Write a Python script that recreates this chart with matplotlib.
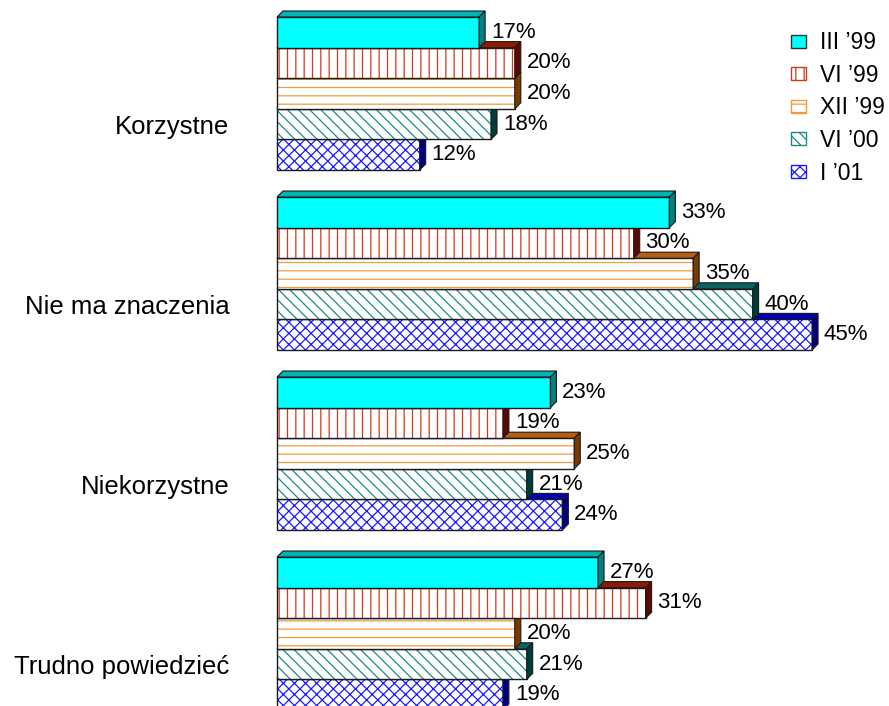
import matplotlib
matplotlib.use("Agg")
import matplotlib.pyplot as plt
from matplotlib.patches import Polygon, Patch

plt.rcParams['font.family'] = ['Liberation Sans', 'DejaVu Sans']
plt.rcParams['hatch.linewidth'] = 0.9

# --- data ---
categories = ["Korzystne", "Nie ma znaczenia", "Niekorzystne", "Trudno powiedzieć"]
series = ["III ’99", "VI ’99", "XII ’99", "VI ’00", "I ’01"]
values = [
    [17, 20, 20, 18, 12],   # Korzystne
    [33, 30, 35, 40, 45],   # Nie ma znaczenia
    [23, 19, 25, 21, 24],   # Niekorzystne
    [27, 31, 20, 21, 19],   # Trudno powiedzieć
]

# style per series: face, hatch, hatch colour, top face, side face
faces = ["#00FFFF", "white", "white", "white", "white"]
hatches = [None, "||", "--", "\\\\\\", "xxx"]
hatch_cols = ["#000000", "#D03A1A", "#F39A3C", "#1A8A88", "#1A1AFF"]
top_cols = ["#00B4B4", "#8E1A00", "#B85E10", "#0A6262", "#0000B0"]
side_cols = ["#008080", "#5A0A00", "#7A3A00", "#003C3C", "#000080"]
EDGE = "#1A1A1A"

W, H = 889, 706
fig = plt.figure(figsize=(W / 100, H / 100), dpi=100)

PX_X = 11.89          # pixels per percent
PX_Y = 30.6           # pixels per bar
PITCH = 180 / PX_Y    # group pitch in bar units
y_top_lim = -0.5
y_bot_lim = (H - 17) / PX_Y
ax_h_px = (y_bot_lim - y_top_lim) * PX_Y
ax = fig.add_axes([277 / W, 0, 50 * PX_X / W, ax_h_px / H])
ax.set_xlim(0, 50)
ax.set_ylim(y_bot_lim, y_top_lim)
ax.axis("off")

dx = 6 / PX_X
dy = 6 / PX_Y

z = 1
for g, cat in enumerate(categories):
    for j in range(len(series) - 1, -1, -1):
        v = values[g][j]
        yt = g * PITCH + j
        yb = yt + 1
        # front face with hatch
        ax.barh(yt + 0.5, v, height=1, left=0, color=faces[j],
                edgecolor=hatch_cols[j], hatch=hatches[j], linewidth=0,
                zorder=z, clip_on=False)
        ax.barh(yt + 0.5, v, height=1, left=0, facecolor="none",
                edgecolor=EDGE, linewidth=1.0, zorder=z + 0.1, clip_on=False)
        # top face
        ax.add_patch(Polygon([(0, yt), (v, yt), (v + dx, yt - dy), (dx, yt - dy)],
                             closed=True, facecolor=top_cols[j], edgecolor=EDGE,
                             linewidth=0.8, zorder=z + 0.2, clip_on=False))
        # side face
        ax.add_patch(Polygon([(v, yt), (v, yb), (v + dx, yb - dy), (v + dx, yt - dy)],
                             closed=True, facecolor=side_cols[j], edgecolor=EDGE,
                             linewidth=0.8, zorder=z + 0.3, clip_on=False))
        ax.text(v + 1.0, yt + 0.5, f"{v}%", ha="left", va="center",
                fontsize=16, color="black", zorder=50, clip_on=False)
        z += 1
    ax.text(-4.0, g * PITCH + 3.6, cat, ha="right", va="center",
            fontsize=18.5, color="black", clip_on=False)

handles = []
for j, s in enumerate(series):
    handles.append(Patch(facecolor=faces[j], edgecolor=hatch_cols[j] if j else "#303030",
                         hatch=hatches[j], linewidth=1.0, label=s))
fig.legend(handles=handles, loc="upper left", bbox_to_anchor=(782 / W, 1 - 22 / H),
           frameon=False, fontsize=16.5, handlelength=0.65, handleheight=0.5,
           handletextpad=0.6, labelspacing=0.42, borderaxespad=0)

fig.savefig("out.png", dpi=100)
